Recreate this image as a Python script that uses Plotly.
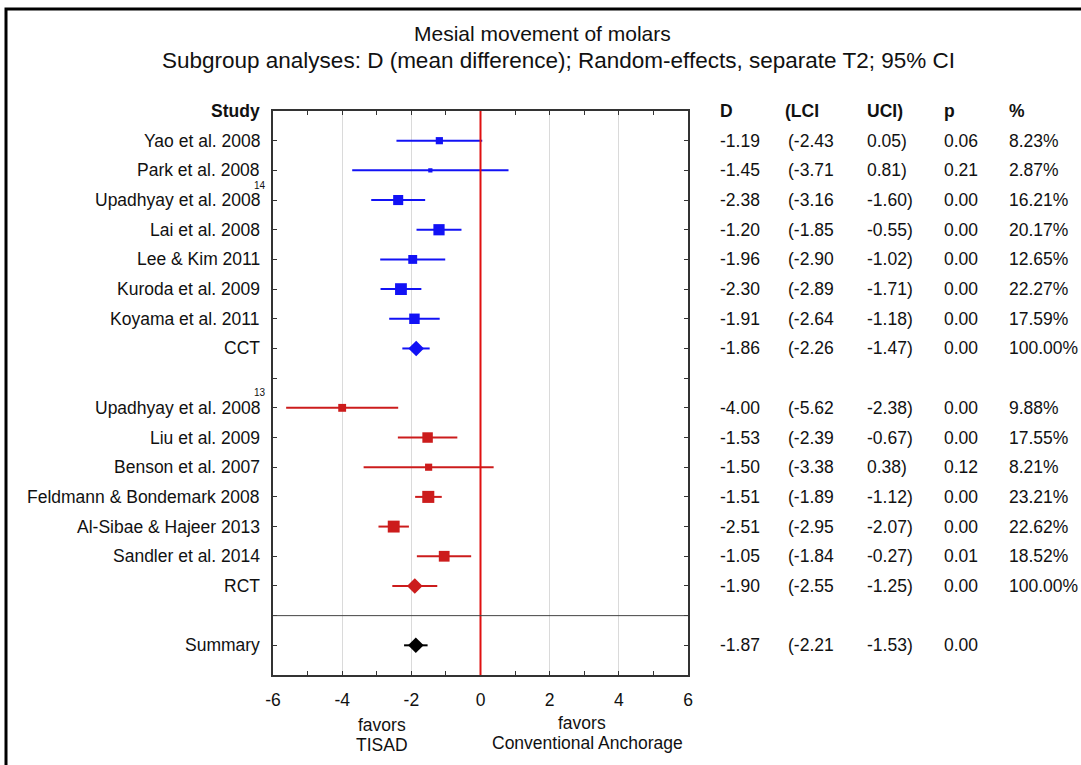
import plotly.graph_objects as go
import numpy as np

# ---------------- data ----------------
cct_studies = ["Yao et al. 2008", "Park et al. 2008", "Upadhyay et al. 2008", "Lai et al. 2008",
               "Lee & Kim 2011", "Kuroda et al. 2009", "Koyama et al. 2011"]
cct_sup = ["", "", "14", "", "", "", ""]
cct_d = [-1.19, -1.45, -2.38, -1.20, -1.96, -2.30, -1.91]
cct_lci = [-2.43, -3.71, -3.16, -1.85, -2.90, -2.89, -2.64]
cct_uci = [0.05, 0.81, -1.60, -0.55, -1.02, -1.71, -1.18]
cct_p = [0.06, 0.21, 0.00, 0.00, 0.00, 0.00, 0.00]
cct_w = [8.23, 2.87, 16.21, 20.17, 12.65, 22.27, 17.59]
cct_total = dict(label="CCT", d=-1.86, lci=-2.26, uci=-1.47, p=0.00, w=100.00)

rct_studies = ["Upadhyay et al. 2008", "Liu et al. 2009", "Benson et al. 2007",
               "Feldmann & Bondemark 2008", "Al-Sibae & Hajeer 2013", "Sandler et al. 2014"]
rct_sup = ["13", "", "", "", "", ""]
rct_d = [-4.00, -1.53, -1.50, -1.51, -2.51, -1.05]
rct_lci = [-5.62, -2.39, -3.38, -1.89, -2.95, -1.84]
rct_uci = [-2.38, -0.67, 0.38, -1.12, -2.07, -0.27]
rct_p = [0.00, 0.00, 0.12, 0.00, 0.00, 0.01]
rct_w = [9.88, 17.55, 8.21, 23.21, 22.62, 18.52]
rct_total = dict(label="RCT", d=-1.90, lci=-2.55, uci=-1.25, p=0.00, w=100.00)

summary = dict(label="Summary", d=-1.87, lci=-2.21, uci=-1.53, p=0.00, w=None)

x_ticks = [-6, -4, -2, 0, 2, 4, 6]
x_ticktext = ["-6", "-4", "-2", "0", "2", "4", "6"]
x_range = [-6, 6]
ref_x = 0

title1 = "Mesial movement of molars"
title2 = "Subgroup analyses: D (mean difference); Random-effects, separate T2; 95% CI"
col_headers = ["D", "(LCI", "UCI)", "p", "%"]

# ---------------- layout geometry ----------------
W, H = 1081, 765
L, R, T, B = 273, 688, 111, 675
def px_x(px):
    return (px - L) / (R - L)
def px_y(py):
    return (B - py) / (B - T)

BLUE = "#1212f5"
RED = "#cc1c1c"
BLACK = "#000000"
FONT = "Liberation Sans, Arial, sans-serif"
FS = 17.5

# rows
cct_rows = list(range(1, 1 + len(cct_studies)))
cct_total_row = cct_rows[-1] + 1
rct_rows = list(range(cct_total_row + 2, cct_total_row + 2 + len(rct_studies)))
rct_total_row = rct_rows[-1] + 1
sep_row = rct_total_row + 1
summary_row = sep_row + 1
n_rows = summary_row + 1

fig = go.Figure()

def ci_trace(lci, uci, rows, color):
    xs, ys = [], []
    for a, b, r in zip(lci, uci, rows):
        xs += [a, b, None]
        ys += [r, r, None]
    return go.Scatter(x=xs, y=ys, mode="lines", line=dict(color=color, width=2),
                      hoverinfo="skip", showlegend=False)

# CI lines
fig.add_trace(ci_trace(cct_lci + [cct_total["lci"]], cct_uci + [cct_total["uci"]],
                       cct_rows + [cct_total_row], BLUE))
fig.add_trace(ci_trace(rct_lci + [rct_total["lci"]], rct_uci + [rct_total["uci"]],
                       rct_rows + [rct_total_row], RED))
fig.add_trace(ci_trace([summary["lci"]], [summary["uci"]], [summary_row], BLACK))

# study squares (size by weight)
def sq_sizes(w):
    return [2.5 * np.sqrt(v) for v in w]

fig.add_trace(go.Scatter(x=cct_d, y=cct_rows, mode="markers",
                         marker=dict(symbol="square", size=sq_sizes(cct_w), color=BLUE, opacity=1,
                                     line=dict(width=0)),
                         showlegend=False))
fig.add_trace(go.Scatter(x=rct_d, y=rct_rows, mode="markers",
                         marker=dict(symbol="square", size=sq_sizes(rct_w), color=RED, opacity=1,
                                     line=dict(width=0)),
                         showlegend=False))
# pooled diamonds
for tot, row, col in [(cct_total, cct_total_row, BLUE), (rct_total, rct_total_row, RED),
                      (summary, summary_row, BLACK)]:
    fig.add_trace(go.Scatter(x=[tot["d"]], y=[row], mode="markers",
                             marker=dict(symbol="diamond", size=12, color=col, opacity=1, line=dict(width=0)),
                             showlegend=False))

# reference line and separator
fig.add_shape(type="line", xref="x", yref="paper", x0=ref_x, x1=ref_x, y0=0, y1=1,
              line=dict(color="#e01010", width=2), layer="above")
fig.add_shape(type="line", xref="paper", yref="y", x0=0, x1=1, y0=sep_row, y1=sep_row,
              line=dict(color="#444444", width=1))
# outer frame
fig.add_shape(type="rect", xref="paper", yref="paper",
              x0=px_x(6), x1=px_x(1100), y0=px_y(790), y1=px_y(9),
              line=dict(color="#000000", width=3), fillcolor="rgba(0,0,0,0)")

ann = []
def text(x_px, y, s, anchor="left", bold=False, size=FS, yshift=0, yref="y"):
    ann.append(dict(x=px_x(x_px), xref="paper", y=y, yref=yref, text=("<b>%s</b>" % s) if bold else s,
                    showarrow=False, xanchor=anchor, yanchor="middle", yshift=yshift,
                    font=dict(family=FONT, size=size, color="#111111")))

# headers
text(262, 0, "Study", anchor="right", bold=True)
hdr_x = [718, 783, 865, 942, 1007]
val_x = [718, 786, 865, 942, 1007]
for hx, h in zip(hdr_x, col_headers):
    text(hx, 0, h, bold=True)

def row_text(label, sup, r, d, lci, uci, p, w):
    text(262, r, label, anchor="right")
    if sup:
        text(268, r, sup, anchor="right", size=10, yshift=15)
    vals = ["%.2f" % d, "(%.2f" % lci, "%.2f)" % uci, "%.2f" % p]
    if w is not None:
        vals.append("%.2f%%" % w)
    for vx, v in zip(val_x, vals):
        text(vx, r, v)

for i, s in enumerate(cct_studies):
    row_text(s, cct_sup[i], cct_rows[i], cct_d[i], cct_lci[i], cct_uci[i], cct_p[i], cct_w[i])
row_text(cct_total["label"], "", cct_total_row, cct_total["d"], cct_total["lci"], cct_total["uci"], cct_total["p"], cct_total["w"])
for i, s in enumerate(rct_studies):
    row_text(s, rct_sup[i], rct_rows[i], rct_d[i], rct_lci[i], rct_uci[i], rct_p[i], rct_w[i])
row_text(rct_total["label"], "", rct_total_row, rct_total["d"], rct_total["lci"], rct_total["uci"], rct_total["p"], rct_total["w"])
row_text(summary["label"], "", summary_row, summary["d"], summary["lci"], summary["uci"], summary["p"], summary["w"])

# titles
ann.append(dict(x=px_x(542), xref="paper", y=px_y(34), yref="paper", text=title1, showarrow=False,
                xanchor="center", yanchor="middle", font=dict(family=FONT, size=21, color="#111111")))
ann.append(dict(x=px_x(558), xref="paper", y=px_y(61), yref="paper", text=title2, showarrow=False,
                xanchor="center", yanchor="middle", font=dict(family=FONT, size=22.5, color="#111111")))
# favors labels
for xp, yp, s in [(382, 725, "favors"), (382, 745, "TISAD"),
                  (582, 723, "favors"), (587, 743, "Conventional Anchorage")]:
    ann.append(dict(x=px_x(xp), xref="paper", y=px_y(yp), yref="paper", text=s, showarrow=False,
                    xanchor="center", yanchor="middle", font=dict(family=FONT, size=FS, color="#111111")))

fig.update_layout(
    width=W, height=H,
    margin=dict(l=L, r=W - R, t=T, b=H - B, pad=0),
    paper_bgcolor="white", plot_bgcolor="white",
    showlegend=False,
    annotations=ann,
    font=dict(family=FONT, size=FS, color="#111111"),
    xaxis=dict(range=x_range, tickvals=x_ticks, ticktext=x_ticktext, ticks="inside", ticklen=4, tickwidth=1.2,
               tickcolor="#333333", mirror="ticks", showline=True, linecolor="#333333", linewidth=1.5,
               showgrid=True, gridcolor="#dadada", gridwidth=1, zeroline=False, ticklabelstandoff=8,
               minor=dict(dtick=1, ticks="inside", ticklen=4, tickwidth=1.2, tickcolor="#333333", showgrid=False),
               tickfont=dict(family=FONT, size=FS, color="#111111"), fixedrange=True),
    yaxis=dict(range=[n_rows, 0], tickvals=list(range(1, n_rows)), ticks="inside", ticklen=4, tickwidth=1.2,
               tickcolor="#333333", mirror="ticks", showline=True, linecolor="#333333", linewidth=1.5,
               showgrid=False, zeroline=False, showticklabels=False, fixedrange=True),
)

fig.write_html("out.html", config={"displayModeBar": False},
               post_script="document.body.style.margin='0';document.body.style.overflow='hidden';")
